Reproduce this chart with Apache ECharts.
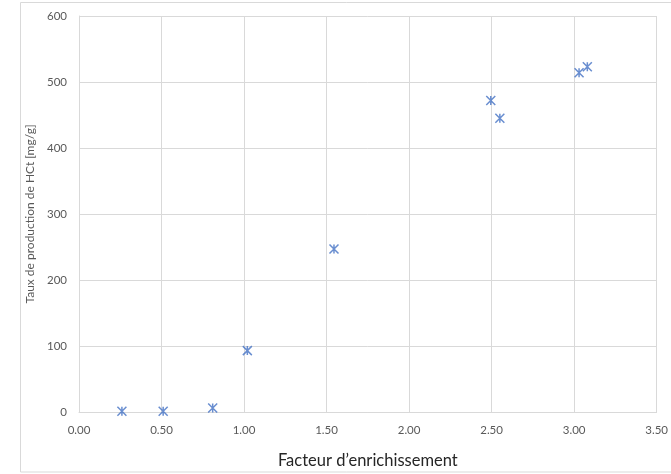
<!DOCTYPE html>
<html><head><meta charset="utf-8">
<script src="https://cdn.jsdelivr.net/npm/echarts@6/dist/echarts.min.js"></script>
<style>html,body{margin:0;padding:0;background:#fff}#c{width:671px;height:474px}</style>
</head><body><div id="c"></div>
<script>
const xValues = [0.26, 0.51, 0.81, 1.02, 1.545, 2.495, 2.55, 3.03, 3.08];
const yValues = [1, 1, 6, 93, 247, 472, 445, 514, 523];
const xAxisTitle = 'Facteur d’enrichissement';
const yAxisTitle = 'Taux de production de HCt [mg/g]';
const chart = echarts.init(document.getElementById('c'));
const font = 'Lato, "Open Sans", sans-serif';
chart.setOption({
  animation: false,
  graphic: [{type:'rect', shape:{x:20.5,y:2.5,width:652,height:469.5}, style:{fill:'none', stroke:'#d9d9d9', lineWidth:1}, silent:true}],
  grid: {left: 79, right: 12, top: 16, bottom: 58},
  xAxis: {
    type: 'value', min: 0, max: 3.5, interval: 0.5,
    name: xAxisTitle, nameLocation: 'middle', nameGap: 40,
    nameTextStyle: {fontFamily: font, fontSize: 16.5, color: '#262626'},
    axisLine: {show: true, lineStyle: {color: '#d9d9d9'}},
    axisTick: {show: false},
    axisLabel: {fontFamily: font, fontSize: 11.5, color: '#595959', margin: 12, formatter: v => v.toFixed(2)},
    splitLine: {show: true, lineStyle: {color: '#d9d9d9'}}
  },
  yAxis: {
    type: 'value', min: 0, max: 600, interval: 100,
    name: yAxisTitle, nameLocation: 'middle', nameGap: 30,
    nameTextStyle: {fontFamily: font, fontSize: 12, color: '#595959'},
    axisLine: {show: true, lineStyle: {color: '#d9d9d9'}},
    axisTick: {show: false},
    axisLabel: {fontFamily: font, fontSize: 11.5, color: '#595959', margin: 12},
    splitLine: {show: true, lineStyle: {color: '#d9d9d9'}}
  },
  series: [{
    type: 'scatter',
    data: xValues.map((x, i) => [x, yValues[i]]),
    symbol: 'path://M0,0L10,10M10,0L0,10M5,0L5,10',
    symbolSize: 9,
    itemStyle: {color: 'rgba(0,0,0,0)', borderColor: '#4472C4', borderWidth: 1.5}
  }]
});
</script></body></html>
